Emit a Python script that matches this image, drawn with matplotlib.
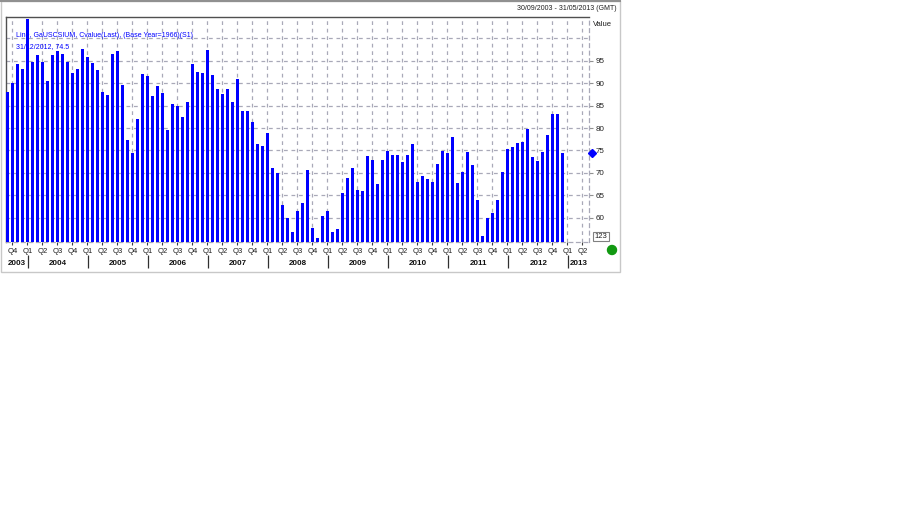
import matplotlib
matplotlib.use('Agg')
import matplotlib.pyplot as plt
import numpy as np
from matplotlib.patches import Rectangle, Ellipse
from matplotlib.lines import Line2D

# ---------------- data ----------------
values = [
    88.1, 90.1, 94.2, 93.1, 104.4, 94.8, 96.3, 94.7, 90.6, 96.2,
    97.2, 96.5, 94.7, 92.2, 93.2, 97.6, 95.9, 94.5, 93.0, 88.1,
    87.4, 96.5, 97.1, 89.5, 77.3, 74.5, 82.0, 92.0, 91.6, 87.2,
    89.3, 87.9, 79.5, 85.3, 85.0, 82.4, 85.8, 94.2, 92.6, 92.2,
    97.4, 91.8, 88.8, 87.5, 88.8, 85.8, 91.0, 83.8, 83.8, 81.3,
    76.5, 75.9, 78.8, 71.1, 69.9, 62.8, 60.0, 56.7, 61.4, 63.2,
    70.6, 57.8, 55.5, 60.3, 61.4, 56.7, 57.4, 65.4, 68.9, 71.1,
    66.2, 66.0, 73.8, 72.9, 67.6, 72.8, 74.8, 73.9, 73.9, 72.5,
    73.9, 76.5, 68.0, 69.3, 68.6, 68.0, 72.0, 74.8, 74.4, 77.9,
    67.8, 70.1, 74.7, 71.8, 63.9, 56.0, 59.9, 61.0, 63.9, 70.1,
    75.3, 75.7, 76.6, 76.8, 79.7, 73.6, 72.7, 74.7, 78.5, 83.1,
    83.1, 74.5,
]  # monthly, Sep 2003 .. Dec 2012
quarter_labels = ['Q4'] + ['Q1', 'Q2', 'Q3', 'Q4'] * 9 + ['Q1', 'Q2']
year_labels = ['2003', '2004', '2005', '2006', '2007', '2008', '2009',
               '2010', '2011', '2012', '2013']
y_tick_values = [60, 65, 70, 75, 80, 85, 90, 95]
grid_levels = [60, 65, 70, 75, 80, 85, 90, 95, 100]
legend_line1 = "Line, GaUSCSIUM, Cvalue(Last), (Base Year=1966)(S1)"
legend_line2 = "31/12/2012, 74.5"
date_range = "30/09/2003 - 31/05/2013 (GMT)"
value_title = "Value"
button_text = "123"

# ---------------- layout ----------------
W, H = 900, 527
plt.rcParams['font.family'] = ['Liberation Sans', 'DejaVu Sans']

fig = plt.figure(figsize=(W / 100, H / 100), dpi=100)
fig.patch.set_facecolor('white')

ax_left, ax_right, ax_top, ax_bottom = 5.7, 589.0, 17.3, 241.7
ax = fig.add_axes([ax_left / W, 1 - ax_bottom / H,
                   (ax_right - ax_left) / W, (ax_bottom - ax_top) / H])
ax.set_axisbelow(True)

x = np.arange(len(values))
ax.bar(x, values, width=0.62, color='#0000ff', zorder=3)

x_min, x_max = -0.33, 116.3
ax.set_xlim(x_min, x_max)
ax.set_ylim(54.64, 104.7)

q_pos = 1 + 3 * np.arange(len(quarter_labels))
ax.set_xticks(q_pos)
ax.set_xticklabels(quarter_labels, fontsize=5.5, color='#202020')
ax.tick_params(axis='x', length=2, width=0.8, color='#404040', pad=2.5)

ax.yaxis.tick_right()
ax.set_yticks(y_tick_values)
ax.set_yticklabels([str(v) for v in y_tick_values], fontsize=5.8, color='#202020')
ax.tick_params(axis='y', length=3, width=0.8, color='#909090', pad=1.5)

grid_style = dict(color='#a9a9b8', linestyle=(0, (3, 3)), linewidth=0.9)
for lv in grid_levels:
    ax.axhline(lv, zorder=0.5, **grid_style)
ax.grid(axis='x', **grid_style)

for s in ['top', 'left']:
    ax.spines[s].set_color('#505050')
    ax.spines[s].set_linewidth(1.0)
for s in ['right', 'bottom']:
    ax.spines[s].set_color('#a9a9b8')
    ax.spines[s].set_linewidth(0.9)
    ax.spines[s].set_linestyle((0, (3, 3)))

sep_pos = [4.15 + 12 * k for k in range(len(year_labels) - 1)]
ax.vlines(sep_pos, -0.059, -0.117, transform=ax.get_xaxis_transform(),
          clip_on=False, color='#303030', linewidth=0.9)
edges = [x_min] + sep_pos + [x_max]
for i, yl in enumerate(year_labels):
    cx = (edges[i] + edges[i + 1]) / 2
    ax.text(cx, -0.095, yl, transform=ax.get_xaxis_transform(), ha='center',
            va='center', fontsize=5.8, fontweight='bold', color='#101010')

ax.text(0.0177, 0.921, legend_line1, transform=ax.transAxes, fontsize=5.0,
        color='#0000ff', va='center', ha='left', zorder=1)
ax.text(0.0177, 0.869, legend_line2, transform=ax.transAxes, fontsize=5.0,
        color='#0000ff', va='center', ha='left', zorder=1)

ax.plot([1.006], [values[-1]], transform=ax.get_yaxis_transform(),
        marker='D', markersize=3.8, color='#0000ff', clip_on=False, zorder=5)

fig.text(617 / W, 1 - 9 / H, date_range, ha='right', va='center',
         fontsize=5.0, color='#202020')
fig.text(593 / W, 1 - 25 / H, value_title, ha='left', va='center',
         fontsize=5.5, color='#202020')
fig.text(601 / W, 1 - 236.5 / H, button_text, ha='center', va='center',
         fontsize=5.5, color='#202020',
         bbox=dict(boxstyle='square,pad=0.15', fc='white', ec='#808080', lw=0.8))
fig.add_artist(Ellipse((612 / W, 1 - 250 / H), 9 / W, 9 / H,
                       transform=fig.transFigure, color='#119911'))

fig.add_artist(Rectangle((0.5 / W, 1 - 272 / H), 619.5 / W, 271.5 / H,
                         fill=False, ec='#c8c8c8', lw=1.0,
                         transform=fig.transFigure))
fig.add_artist(Line2D([0, 620 / W], [1 - 0.8 / H, 1 - 0.8 / H],
                      transform=fig.transFigure, color='#909090', lw=1.5))

fig.savefig('out.png', dpi=100, facecolor='white')
